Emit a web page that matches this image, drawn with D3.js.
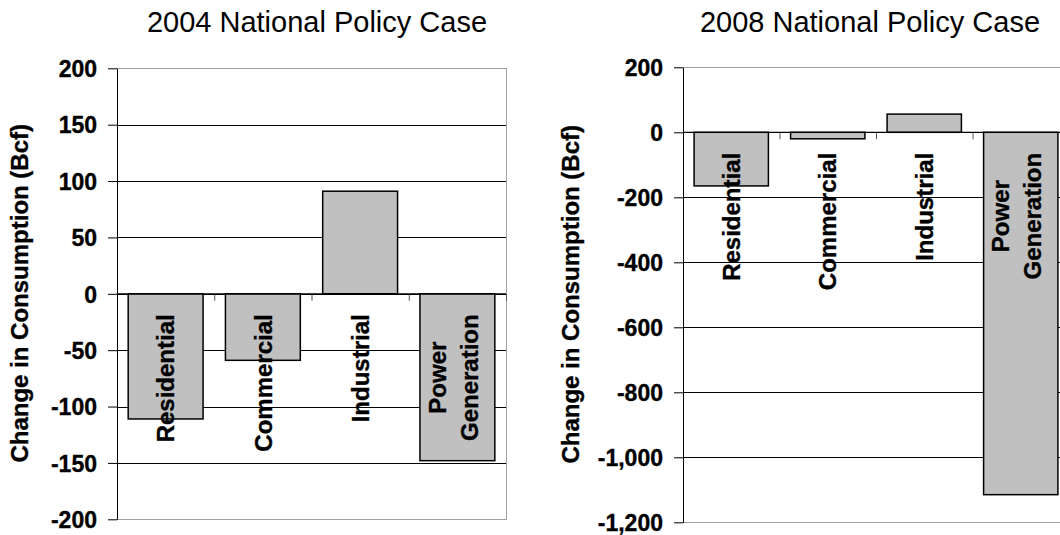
<!DOCTYPE html>
<html>
<head>
<meta charset="utf-8">
<script src="https://cdn.jsdelivr.net/npm/d3@7"></script>
<style>
  body { margin: 0; background: #fff; }
  text { font-family: "Liberation Sans", Arial, sans-serif; }
  .heavy { stroke: #000; stroke-width: 0.35px; }
</style>
</head>
<body>
<svg width="1060" height="535"></svg>
<script>
// data
var categories = ["Residential", "Commercial", "Industrial", "Power\nGeneration"];
var values2004 = [-111, -59, 91, -148];
var values2008 = [-165, -20, 56, -1115];
var ticks2004 = [-200, -150, -100, -50, 0, 50, 100, 150, 200];
var ticks2008 = [-1200, -1000, -800, -600, -400, -200, 0, 200];
var titles = ["2004 National Policy Case", "2008 National Policy Case"];
var yTitle = "Change in Consumption (Bcf)";

var svg = d3.select("svg");

// layout of the two panels (the right one runs off the page, as in the original)
var panels = [
  {title: titles[0], values: values2004, ticks: ticks2004, x0: 117, x1: 506, y0: 68.3, y1: 519.3, titleX: 317, labelX: 28.3},
  {title: titles[1], values: values2008, ticks: ticks2008, x0: 683, x1: 1069, y0: 67.3, y1: 522.3, titleX: 870, labelX: 579}
];

var fmt = function(d) { return d3.format(",")(d).replace("\u2212", "-"); };

panels.forEach(function(p) {
  var g = svg.append("g"),
      w = p.x1 - p.x0;

  var y = d3.scaleLinear()
      .domain([p.ticks[0], p.ticks[p.ticks.length - 1]])
      .range([p.y1, p.y0]);

  var x = d3.scaleBand()
      .domain(categories)
      .range([p.x0, p.x1])
      .paddingInner(0.23)
      .paddingOuter(0.115);

  // category boundaries for the little ticks on the zero line
  var edge = d3.scaleLinear()
      .domain([0, categories.length])
      .range([p.x0, p.x1]);

  // gridlines
  g.append("g")
      .attr("transform", "translate(" + p.x0 + ",0)")
      .call(d3.axisLeft(y).tickValues(p.ticks.slice(1, -1)).tickSize(-w).tickFormat(""))
      .call(function(s) {
        s.select(".domain").remove();
        s.selectAll("line").attr("stroke", "#000").attr("shape-rendering", "crispEdges");
      });

  // plot border
  g.append("rect")
      .attr("x", p.x0)
      .attr("y", y(p.ticks[p.ticks.length - 1]))
      .attr("width", w)
      .attr("height", y(p.ticks[0]) - y(p.ticks[p.ticks.length - 1]))
      .attr("fill", "none")
      .attr("stroke", "#a0a0a0")
      .attr("shape-rendering", "crispEdges");

  // bars
  g.selectAll("rect.bar")
    .data(p.values)
    .join("rect")
      .attr("class", "bar")
      .attr("x", function(d, i) { return x(categories[i]); })
      .attr("y", function(d) { return y(Math.max(0, d)); })
      .attr("width", x.bandwidth())
      .attr("height", function(d) { return Math.abs(y(d) - y(0)); })
      .attr("fill", "#c0c0c0")
      .attr("stroke", "#000")
      .attr("stroke-width", 1.5);

  // ticks between categories
  g.append("g")
      .attr("transform", "translate(0," + y(0) + ")")
      .call(d3.axisBottom(edge).tickValues(d3.range(categories.length + 1)).tickSize(7).tickFormat(""))
      .call(function(s) {
        s.select(".domain").remove();
        s.selectAll("line").attr("stroke", "#555");
      });

  // zero line
  g.append("line")
      .attr("x1", p.x0).attr("x2", p.x1)
      .attr("y1", y(0)).attr("y2", y(0))
      .attr("stroke", "#000")
      .attr("stroke-width", 1.3);

  // y axis
  g.append("g")
      .attr("transform", "translate(" + p.x0 + ",0)")
      .call(d3.axisLeft(y).tickValues(p.ticks).tickSize(9).tickSizeOuter(0).tickPadding(11).tickFormat(fmt))
      .call(function(s) {
        s.select(".domain").attr("stroke", "#000");
        s.selectAll("line").attr("stroke", "#000");
        s.selectAll("text")
            .attr("class", "heavy")
            .attr("font-size", 23)
            .attr("font-weight", "bold")
            .attr("fill", "#000")
            .attr("dy", "0.36em");
      });

  // category labels, rotated, hanging under the zero line
  var lab = g.append("g")
      .attr("transform", "translate(0," + y(0) + ")")
      .call(d3.axisBottom(x).tickSize(0));
  lab.select(".domain").remove();
  lab.selectAll(".tick text").each(function(d) {
    var t = d3.select(this),
        lines = d.split("\n"),
        n = lines.length,
        base = n > 1 ? 0.18 : 0.36;
    t.text(null)
        .attr("class", "heavy")
        .attr("transform", "rotate(-90)")
        .attr("text-anchor", "middle")
        .attr("font-size", 24)
        .attr("font-weight", "bold")
        .attr("fill", "#000")
        .attr("y", null)
        .attr("dy", null);
    lines.forEach(function(l, i) {
      t.append("tspan")
          .attr("y", ((base + (i - (n - 1) / 2) * 1.32) * 24))
          .text(l);
    });
    var maxLen = d3.max(t.selectAll("tspan").nodes(), function(nd) { return nd.getComputedTextLength(); });
    t.selectAll("tspan").attr("x", -(20.5 + maxLen / 2));
  });

  // y axis title
  g.append("text")
      .attr("class", "heavy")
      .attr("transform", "translate(" + p.labelX + "," + ((p.y0 + p.y1) / 2 - 0.5) + ") rotate(-90)")
      .attr("text-anchor", "middle")
      .attr("font-size", 24)
      .attr("font-weight", "bold")
      .attr("fill", "#000")
      .text(yTitle);

  // panel title
  g.append("text")
      .attr("x", p.titleX)
      .attr("y", 32.3)
      .attr("text-anchor", "middle")
      .attr("font-size", 29)
      .attr("fill", "#000")
      .text(p.title);
});
</script>
</body>
</html>
